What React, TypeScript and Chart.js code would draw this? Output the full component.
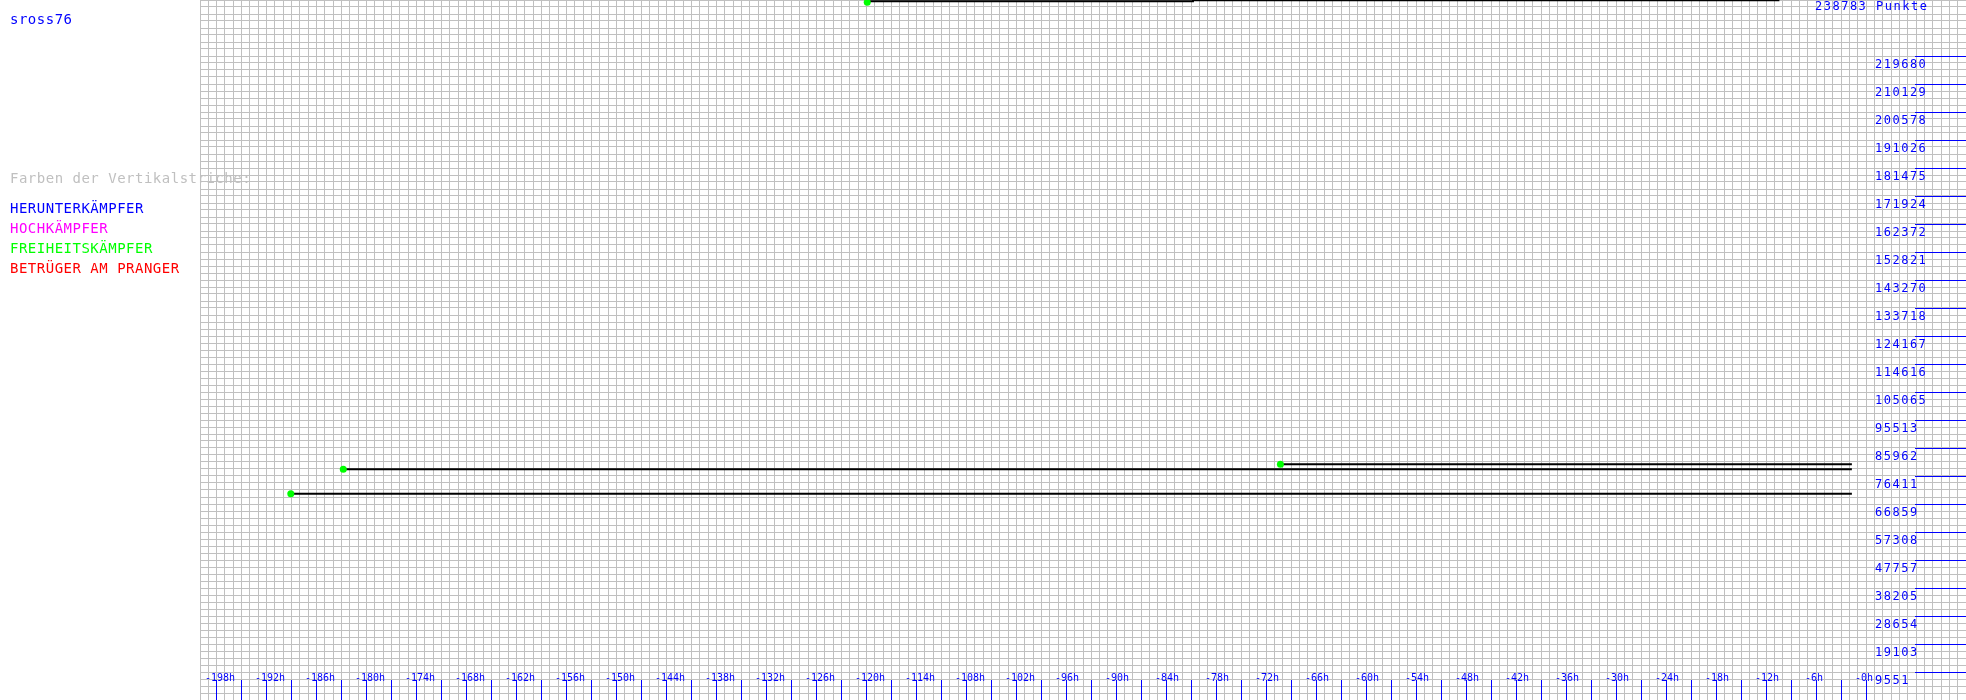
import React, { useEffect, useRef } from 'react';
import { Chart, registerables } from 'chart.js';

Chart.register(...registerables);

// ---- data ----
const X_MIN_HOURS = -200;
const X_MAX_HOURS = 12;
const Y_MAX_POINTS = 238783;
const GRID_ROWS = 100;
const PLAYER_NAME = 'sross76';

const topLineHours = [-119.9, -80.8, -50.5, -10.4];
const topLinePoints = [238000, 238370, 238700, 238700];

const lineAHours = [-182.8, -1.7];
const lineAPoints = [78700, 78700];

const lineBHours = [-189.1, -1.7];
const lineBPoints = [70370, 70370];

const lineCHours = [-70.3, -1.7];
const lineCPoints = [80400, 80400];

const xTickHours = [
  -198, -192, -186, -180, -174, -168, -162, -156, -150, -144, -138, -132,
  -126, -120, -114, -108, -102, -96, -90, -84, -78, -72, -66, -60, -54,
  -48, -42, -36, -30, -24, -18, -12, -6, 0,
];
const xTickLabels = [
  '-198h', '-192h', '-186h', '-180h', '-174h', '-168h', '-162h', '-156h',
  '-150h', '-144h', '-138h', '-132h', '-126h', '-120h', '-114h', '-108h',
  '-102h', '-96h', '-90h', '-84h', '-78h', '-72h', '-66h', '-60h', '-54h',
  '-48h', '-42h', '-36h', '-30h', '-24h', '-18h', '-12h', '-6h', '-0h',
];

const yTickValues = [
  9551, 19103, 28654, 38205, 47757, 57308, 66859, 76411, 85962, 95513,
  105065, 114616, 124167, 133718, 143270, 152821, 162372, 171924, 181475,
  191026, 200578, 210129, 219680,
];
const yTickLabels = [
  '9551', '19103', '28654', '38205', '47757', '57308', '66859', '76411',
  '85962', '95513', '105065', '114616', '124167', '133718', '143270',
  '152821', '162372', '171924', '181475', '191026', '200578', '210129',
  '219680',
];

const legendTitle = 'Farben der Vertikalstriche:';
const legendItems = ['HERUNTERKÄMPFER', 'HOCHKÄMPFER', 'FREIHEITSKÄMPFER', 'BETRÜGER AM PRANGER'];
const legendColors = ['#0000ff', '#ff00ff', '#00ff00', '#ff0000'];

const MONO = '"DejaVu Sans Mono", "Liberation Mono", monospace';

function makeSeries(hours: number[], values: number[]) {
  return {
    data: hours.map((h, i) => ({ x: h, y: values[i] })),
    borderColor: '#000000',
    borderWidth: 2,
    stepped: 'after' as const,
    fill: false,
    pointRadius: (c: any) => (c.dataIndex === 0 ? 3.5 : 0),
    pointBackgroundColor: '#00ff00',
    pointBorderColor: '#00ff00',
    pointBorderWidth: 0,
  };
}

const overlayPlugin = {
  id: 'overlay',
  afterDraw(chart: any) {
    const ctx = chart.ctx as CanvasRenderingContext2D;
    const xs = chart.scales.x;
    const ys = chart.scales.y;
    ctx.save();
    ctx.strokeStyle = '#0000ff';
    ctx.lineWidth = 1;
    ctx.beginPath();
    // hour tick marks every 3h
    for (let h = xTickHours[0]; h <= xTickHours[xTickHours.length - 1]; h += 3) {
      const px = Math.floor(xs.getPixelForValue(h)) + 0.5;
      ctx.moveTo(px, ys.bottom - 20);
      ctx.lineTo(px, ys.bottom);
    }
    // points tick marks
    const rows: number[] = [];
    yTickValues.forEach((v) => {
      const row = Math.floor(ys.getPixelForValue(v) + 0.01);
      rows.push(row);
      ctx.moveTo(xs.right - 51, row + 0.5);
      ctx.lineTo(xs.right, row + 0.5);
    });
    ctx.stroke();

    ctx.fillStyle = '#0000ff';
    ctx.textBaseline = 'alphabetic';
    ctx.textAlign = 'left';
    // x labels
    ctx.font = `10px ${MONO}`;
    xTickHours.forEach((h, i) => {
      const px = Math.floor(xs.getPixelForValue(h));
      ctx.fillText(xTickLabels[i], px - 11, ys.bottom - 19);
    });
    // y labels
    ctx.font = `12px ${MONO}`;
    (ctx as any).letterSpacing = '1.5px';
    yTickLabels.forEach((t, i) => {
      ctx.fillText(t, xs.right - 91, rows[i] + 12);
    });
    ctx.fillText(`${Y_MAX_POINTS} Punkte`, xs.right - 151, ys.top + 10);
    (ctx as any).letterSpacing = '0px';
    ctx.restore();
  },
};

export default function App() {
  const canvasRef = useRef<HTMLCanvasElement | null>(null);

  useEffect(() => {
    document.body.style.margin = '0';
    const canvas = canvasRef.current;
    if (!canvas) return;
    const gridStyle = { color: '#c0c0c0', lineWidth: 1, drawTicks: false };
    const chart = new Chart(canvas, {
      type: 'line',
      data: {
        datasets: [
          makeSeries(topLineHours, topLinePoints),
          makeSeries(lineAHours, lineAPoints),
          makeSeries(lineBHours, lineBPoints),
          makeSeries(lineCHours, lineCPoints),
        ] as any,
      },
      options: {
        responsive: false,
        animation: false,
        events: [],
        layout: { autoPadding: false, padding: { left: 200, right: 0, top: 0, bottom: 0 } },
        plugins: {
          legend: { display: false },
          tooltip: { enabled: false },
          title: { display: false },
        },
        scales: {
          x: {
            type: 'linear',
            min: X_MIN_HOURS,
            max: X_MAX_HOURS,
            ticks: { display: false, stepSize: 1, autoSkip: false },
            grid: gridStyle,
            border: { display: false },
            afterFit: (s: any) => {
              s.height = 0;
            },
          },
          y: {
            type: 'linear',
            min: 0,
            max: Y_MAX_POINTS,
            ticks: { display: false, stepSize: Y_MAX_POINTS / GRID_ROWS, autoSkip: false },
            grid: gridStyle,
            border: { display: false },
            afterFit: (s: any) => {
              s.width = 0;
            },
          },
        },
      } as any,
      plugins: [overlayPlugin],
    });
    return () => chart.destroy();
  }, []);

  const textBase: React.CSSProperties = {
    position: 'absolute',
    left: 10,
    fontFamily: MONO,
    fontSize: 14,
    lineHeight: '20px',
    letterSpacing: '0.5px',
    whiteSpace: 'pre',
    margin: 0,
  };

  return (
    <div style={{ position: 'relative', width: 1966, height: 700, overflow: 'hidden', background: '#ffffff' }}>
      <canvas ref={canvasRef} width={1966} height={700} style={{ display: 'block', width: 1966, height: 700 }} />
      <div style={{ ...textBase, top: 8.5, color: '#0000ff' }}>{PLAYER_NAME}</div>
      <div style={{ ...textBase, top: 168, color: '#c0c0c0' }}>{legendTitle}</div>
      {legendItems.map((t, i) => (
        <div key={t} style={{ ...textBase, top: 198 + i * 20, color: legendColors[i] }}>
          {t}
        </div>
      ))}
    </div>
  );
}
